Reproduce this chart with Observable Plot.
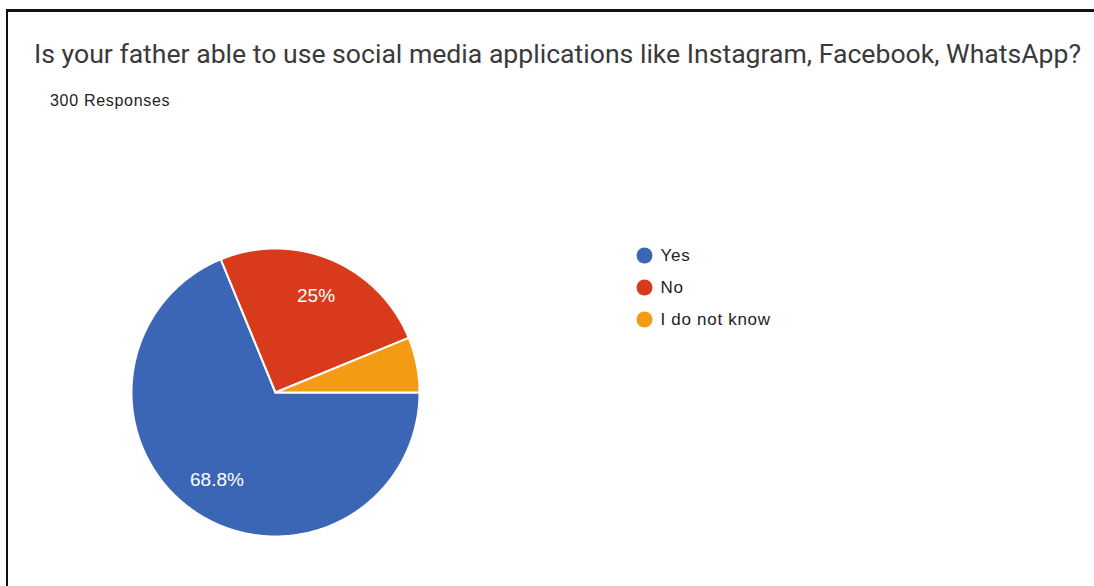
<!DOCTYPE html>
<html>
<head>
<meta charset="utf-8">
<script src="https://cdn.jsdelivr.net/npm/d3@7"></script>
<script src="https://cdn.jsdelivr.net/npm/@observablehq/plot@0.6"></script>
<style>
  html, body { margin: 0; padding: 0; background: #fff; width: 1094px; height: 586px; overflow: hidden; position: relative; }
  #frame { position: absolute; left: 6px; top: 9px; width: 1300px; height: 700px; border-top: 3px solid #111; border-left: 2.5px solid #111; }
  #title { position: absolute; left: 34px; top: 42px; font-family: Roboto, sans-serif; font-size: 25px; line-height: 25px; color: #3a3a3a; white-space: nowrap; transform-origin: 0 0; }
  #sub { position: absolute; left: 50px; top: 93px; font-family: "Liberation Sans", Arial, sans-serif; font-size: 16px; line-height: 16px; letter-spacing: 0.7px; color: #222; white-space: nowrap; }
  #pie { position: absolute; left: 0; top: 115px; }
  #legend { position: absolute; left: 620px; top: 220px; }
</style>
</head>
<body>
<div id="frame"></div>
<div id="title"></div>
<div id="sub"></div>
<div id="pie"></div>
<div id="legend"></div>
<script>
// ---- data ----
const titleText = "Is your father able to use social media applications like Instagram, Facebook, WhatsApp?";
const subtitleText = "300 Responses";
const categories = ["Yes", "No", "I do not know"];
const percents = [68.8, 25, 6.2];
const colors = ["#3b66b6", "#da3a1c", "#f39b12"];

const titleEl = document.getElementById("title");
titleEl.textContent = titleText;
// stretch the title horizontally so it spans the same width as in the reference
const tw = titleEl.getBoundingClientRect().width;
titleEl.style.transform = `scaleX(${1047 / tw})`;
document.getElementById("sub").textContent = subtitleText;

// ---- pie geometry derived from the values ----
const arcs = d3.pie().sort(null)
  .startAngle(Math.PI / 2).endAngle(Math.PI / 2 + 2 * Math.PI)(percents);

const slicePts = [];
arcs.forEach((a, i) => {
  const cat = categories[i];
  slicePts.push({cat, x: 0, y: 0});
  const n = Math.max(2, Math.ceil((a.endAngle - a.startAngle) / 0.01));
  for (let k = 0; k <= n; k++) {
    const t = a.startAngle + (a.endAngle - a.startAngle) * k / n;
    slicePts.push({cat, x: Math.sin(t), y: Math.cos(t)});
  }
  slicePts.push({cat, x: 0, y: 0});
});

const labels = arcs
  .map((a, i) => ({cat: categories[i], v: percents[i], mid: (a.startAngle + a.endAngle) / 2}))
  .filter(d => d.v >= 10)
  .map(d => ({text: `${d.v}%`, x: 0.73 * Math.sin(d.mid), y: 0.73 * Math.cos(d.mid)}));

const colorScale = {domain: categories, range: colors};

const pie = Plot.plot({
  width: 560,
  height: 471,
  margin: 0,
  style: {fontFamily: "'Liberation Sans', Arial, sans-serif", background: "transparent"},
  x: {domain: [-1, 1], range: [131, 419], axis: null},
  y: {domain: [-1, 1], range: [421, 133], axis: null},
  color: colorScale,
  marks: [
    Plot.line(slicePts, {x: "x", y: "y", z: "cat", fill: "cat", stroke: "white", strokeWidth: 2, strokeLinejoin: "round", curve: "linear"}),
    Plot.text(labels, {x: "x", y: "y", text: "text", fill: "white", fontSize: 19, fontFamily: "'Liberation Sans', Arial, sans-serif"})
  ]
});
document.getElementById("pie").appendChild(pie);

const legend = Plot.plot({
  width: 260,
  height: 130,
  marginLeft: 24,
  marginRight: 0,
  marginTop: 0,
  marginBottom: 0,
  style: {fontFamily: "'Liberation Sans', Arial, sans-serif", background: "transparent", letterSpacing: "0.7px"},
  y: {type: "point", domain: categories, range: [35, 99], padding: 0, axis: null},
  color: colorScale,
  marks: [
    Plot.dot(categories, {y: d => d, fill: d => d, r: 8, frameAnchor: "left"}),
    Plot.text(categories, {y: d => d, text: d => d, frameAnchor: "left", dx: 16, textAnchor: "start", fontSize: 17, fill: "#222"})
  ]
});
document.getElementById("legend").appendChild(legend);
</script>
</body>
</html>
